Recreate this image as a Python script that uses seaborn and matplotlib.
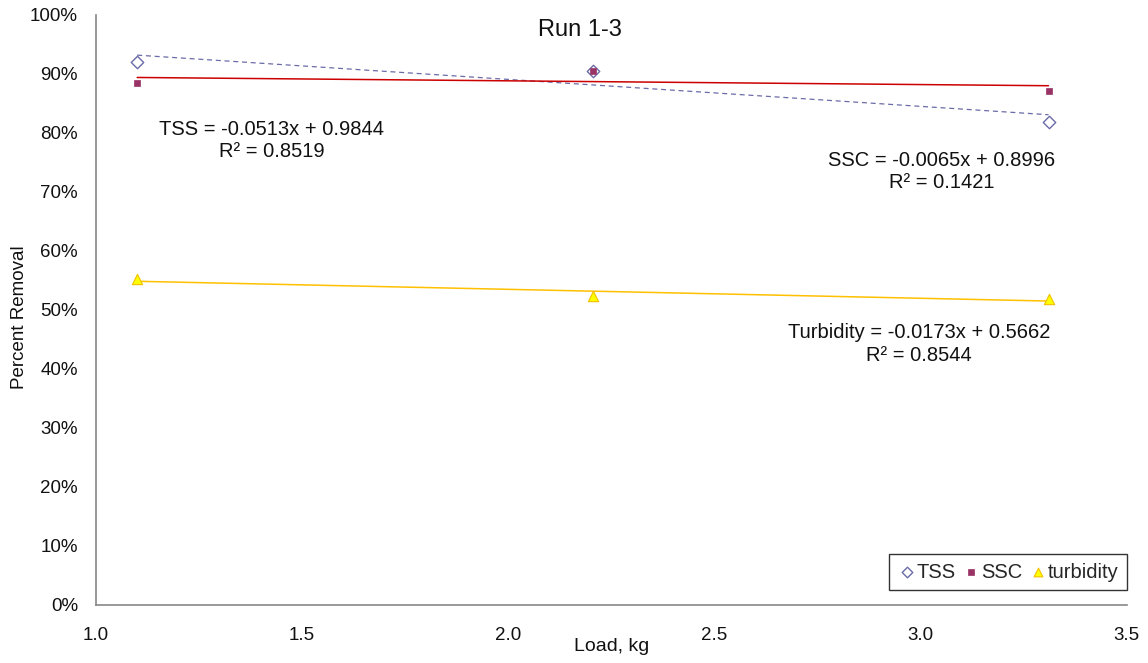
import numpy as np
import pandas as pd
import matplotlib
matplotlib.use("Agg")
import matplotlib.pyplot as plt
from matplotlib.ticker import PercentFormatter, FormatStrFormatter
import seaborn as sns

# Load (kg) and fractional removal for each parameter
load_kg = [1.10, 2.205, 3.31]
tss = [0.920, 0.905, 0.819]
ssc = [0.885, 0.905, 0.871]
turbidity = [0.5525, 0.524, 0.519]

series_names = ["TSS", "SSC", "turbidity"]
eq_lines = [
    "TSS = -0.0513x + 0.9844", "R² = 0.8519",
    "SSC = -0.0065x + 0.8996", "R² = 0.1421",
    "Turbidity = -0.0173x + 0.5662", "R² = 0.8544",
]

sns.set_theme(style="white")
plt.rcParams["font.family"] = ["Liberation Sans", "DejaVu Sans"]

df = pd.DataFrame({"load": load_kg * 3,
                   "removal": tss + ssc + turbidity,
                   "series": np.repeat(series_names, len(load_kg))})

fig = plt.figure(figsize=(11.48, 6.63), dpi=100)
ax = fig.add_axes([0.0836, 0.0875, 0.898, 0.890])

styles = {
    "TSS": dict(marker="D", s=40, facecolor="white", edgecolor="#6b6ba8", lw=1.0,
                line=dict(color="#6b6ba8", ls=(0, (4, 3)), lw=0.9)),
    "SSC": dict(marker="s", s=20, facecolor="#993366", edgecolor="#993366", lw=0.5,
                line=dict(color="#cc0000", ls="-", lw=1.1)),
    "turbidity": dict(marker="^", s=55, facecolor="#ffff00", edgecolor="#f0c000", lw=0.8,
                      line=dict(color="#ffc000", ls="-", lw=1.1)),
}

handles = []
for name in series_names:
    st = styles[name]
    sub = df[df["series"] == name]
    # linear trendline through the series
    sns.regplot(data=sub, x="load", y="removal", ax=ax, scatter=False, ci=None,
                truncate=True, line_kws=dict(color=st["line"]["color"],
                                             linestyle=st["line"]["ls"],
                                             linewidth=st["line"]["lw"]))
    h = ax.scatter(sub["load"], sub["removal"], marker=st["marker"], s=st["s"],
                   facecolors=st["facecolor"], edgecolors=st["edgecolor"],
                   linewidths=st["lw"], zorder=5, label=name)
    handles.append(h)

ax.set_xlim(1.0, 3.5)
ax.set_ylim(0, 1.0)
ax.set_xticks(np.arange(1.0, 3.51, 0.5))
ax.set_yticks(np.arange(0, 1.01, 0.1))
ax.yaxis.set_major_formatter(PercentFormatter(xmax=1, decimals=0))
ax.xaxis.set_major_formatter(FormatStrFormatter("%.1f"))
ax.tick_params(axis="both", length=0, labelsize=13.5, colors="#111111")
ax.tick_params(axis="x", pad=16)
ax.tick_params(axis="y", pad=13)

for side in ["top", "right"]:
    ax.spines[side].set_visible(False)
for side in ["left", "bottom"]:
    ax.spines[side].set_color("#888888")
    ax.spines[side].set_linewidth(1.2)

ax.set_xlabel("Load, kg", fontsize=14, color="#111111")
ax.xaxis.set_label_coords(0.5, -0.056)
ax.set_ylabel("Percent Removal", fontsize=13.5, color="#111111")
ax.yaxis.set_label_coords(-0.066, 0.488)

fig.text(0.505, 0.954, "Run 1-3", ha="center", va="center", fontsize=17,
         color="#111111")

# trendline equations
eq_pos = [(1.4268, 0.805), (1.4268, 0.768),
          (3.0514, 0.753), (3.0514, 0.716),
          (2.9956, 0.461), (2.9956, 0.4235)]
for (x, y), txt in zip(eq_pos, eq_lines):
    ax.text(x, y, txt, ha="center", va="center", fontsize=14.5, color="#111111")

leg = ax.legend(handles=handles, labels=series_names, loc="lower right",
                ncol=3, frameon=True, fontsize=14.5, handletextpad=0.05,
                columnspacing=0.3, borderpad=0.42, handlelength=0.9,
                bbox_to_anchor=(1.0, 0.0254), borderaxespad=0, fancybox=False,
                markerscale=0.85)
leg.get_frame().set_edgecolor("black")
leg.get_frame().set_linewidth(1.0)

fig.savefig("out.png", dpi=100)
